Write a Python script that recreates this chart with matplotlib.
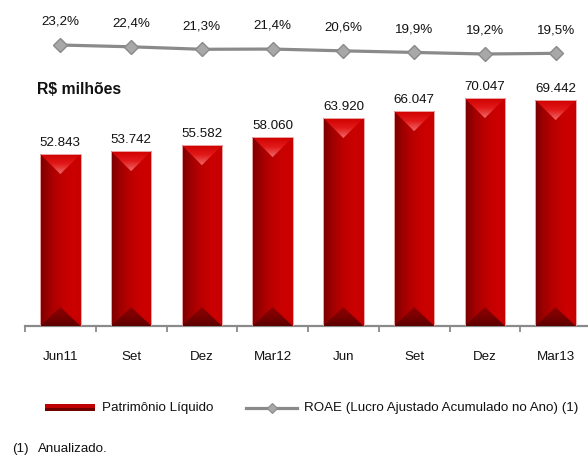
import numpy as np
import matplotlib
matplotlib.use('Agg')
import matplotlib.pyplot as plt
from matplotlib.colors import LinearSegmentedColormap
from matplotlib.patches import Polygon, Rectangle
from matplotlib.lines import Line2D

# dados
periodos = ['Jun11', 'Set', 'Dez', 'Mar12', 'Jun', 'Set', 'Dez', 'Mar13']
patrimonio = [52843, 53742, 55582, 58060, 63920, 66047, 70047, 69442]
roae = [23.2, 22.4, 21.3, 21.4, 20.6, 19.9, 19.2, 19.5]

W, H = 588, 458
plt.rcParams['font.family'] = ['Liberation Sans', 'DejaVu Sans']
fig = plt.figure(figsize=(W / 100, H / 100), dpi=100)


def fx(px):
    return px / W


def fy(py):
    return 1 - py / H


FS = 9.6
CINZA = '#8a8a8a'
TXT = '#111111'

# --- barras ---
ax_h = 244
ax = fig.add_axes([fx(25), fy(326), (591 - 25) / W, ax_h / H])
x = np.arange(len(periodos))
ymax = 75000
upp = ymax / ax_h  # unidades por pixel

corpo = LinearSegmentedColormap.from_list(
    'corpo', ['#7a0000', '#9c0000', '#b40000', '#c40000', '#cc0000', '#c60000'])
topo = LinearSegmentedColormap.from_list('topo', ['#f06a6a', '#e21a1a', '#d00000'])
base = LinearSegmentedColormap.from_list('base', ['#5c0000', '#7a0000', '#8e0000'])
grad_h = np.linspace(0, 1, 256).reshape(1, -1)
grad_v = np.linspace(0, 1, 256).reshape(-1, 1)

bars = ax.bar(x, patrimonio, width=0.57, facecolor='none',
              edgecolor='#e8a8a8', linewidth=0.7, zorder=5)

for b, v in zip(bars, patrimonio):
    x0, x1 = b.get_x(), b.get_x() + b.get_width()
    xc = (x0 + x1) / 2
    im = ax.imshow(grad_h, cmap=corpo, extent=(x0, x1, 0, v), aspect='auto',
                   interpolation='bilinear', zorder=2)
    im.set_clip_path(b)

    # chanfro superior
    tri_top = Polygon([(x0, v), (x1, v), (xc, v - 20 * upp)], closed=True,
                      facecolor='none', edgecolor='none', transform=ax.transData)
    ax.add_patch(tri_top)
    im2 = ax.imshow(grad_v, cmap=topo, extent=(x0, x1, v - 20 * upp, v),
                    origin='lower', aspect='auto', interpolation='bilinear', zorder=3)
    im2.set_clip_path(tri_top)

    # sombra inferior
    tri_base = Polygon([(x0, 0), (x1, 0), (xc, 19 * upp)], closed=True,
                       facecolor='none', edgecolor='none', transform=ax.transData)
    ax.add_patch(tri_base)
    im3 = ax.imshow(grad_v, cmap=base, extent=(x0, x1, 0, 19 * upp),
                    origin='lower', aspect='auto', interpolation='bilinear', zorder=3)
    im3.set_clip_path(tri_base)

    ax.annotate(f'{v:,}'.replace(',', '.'), (xc, v), xytext=(0, 6),
                textcoords='offset points', ha='center', va='baseline',
                fontsize=FS, color=TXT)

ax.set_xlim(-0.5, len(periodos) - 0.5)
ax.set_ylim(0, ymax)
for s in ['left', 'top', 'right']:
    ax.spines[s].set_visible(False)
ax.spines['bottom'].set_color(CINZA)
ax.spines['bottom'].set_linewidth(1.6)
ax.spines['bottom'].set_zorder(1)
ax.set_yticks([])
ax.set_xticks(x)
ax.set_xticklabels(periodos, fontsize=FS, color=TXT)
ax.tick_params(axis='x', which='major', length=0, pad=18)
ax.set_xticks(np.arange(-0.5, len(periodos), 1), minor=True)
ax.tick_params(axis='x', which='minor', length=4.5, width=1.3, color=CINZA,
               direction='out')

# --- ROAE ---
ax2 = fig.add_axes([fx(25), fy(90), (591 - 25) / W, 80 / H])
ax2.set_xlim(-0.5, len(periodos) - 0.5)
ax2.set_ylim(3.2, 38.76)
ax2.axis('off')
ax2.plot(x, roae, color=CINZA, lw=2.3, marker='D', ms=6.8,
         mfc='#a8a8a8', mec=CINZA, mew=1.0, zorder=3)
for xi, r in zip(x, roae):
    ax2.annotate(f'{r:.1f}%'.replace('.', ','), (xi, r), xytext=(0, 14.5),
                 textcoords='offset points', ha='center', va='baseline',
                 fontsize=FS, color=TXT)

fig.text(fx(37), fy(90), 'R$ milhões', fontsize=11.3, fontweight='bold',
         va='center', ha='left', color=TXT)

# --- legenda ---
fig.add_artist(Rectangle((fx(45), fy(411)), 50 / W, 7 / H,
                         transform=fig.transFigure, facecolor='#6e0000',
                         edgecolor='none'))
fig.add_artist(Rectangle((fx(45), fy(408)), 50 / W, 4 / H,
                         transform=fig.transFigure, facecolor='#c00000',
                         edgecolor='none'))
fig.text(fx(102), fy(408), 'Patrimônio Líquido', fontsize=FS, va='center',
         ha='left', color=TXT)
fig.add_artist(Line2D([fx(246), fx(297)], [fy(408), fy(408)],
                      transform=fig.transFigure, color=CINZA, lw=2.3))
fig.add_artist(Line2D([fx(271.5)], [fy(408)], transform=fig.transFigure,
                      marker='D', ms=5, mfc='#a8a8a8', mec=CINZA, mew=0.8))
fig.text(fx(304), fy(408), 'ROAE (Lucro Ajustado Acumulado no Ano) (1)',
         fontsize=FS, va='center', ha='left', color=TXT)

# nota de rodapé
fig.text(fx(12), fy(449), '(1)', fontsize=FS, va='center', ha='left', color=TXT)
fig.text(fx(38), fy(449), 'Anualizado.', fontsize=FS, va='center', ha='left',
         color=TXT)

fig.savefig('out.png', dpi=100)
